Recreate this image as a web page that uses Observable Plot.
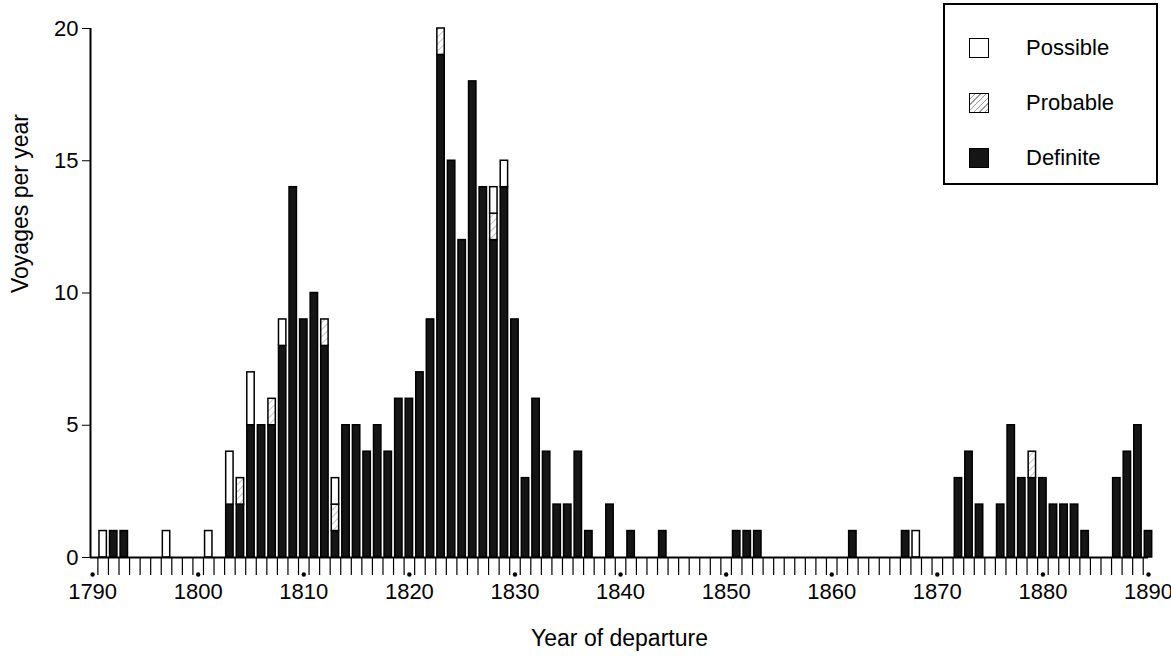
<!DOCTYPE html>
<html><head><meta charset="utf-8">
<script src="https://cdn.jsdelivr.net/npm/d3@7"></script>
<script src="https://cdn.jsdelivr.net/npm/@observablehq/plot@0.6"></script>
<style>
body{margin:0;background:#fff;font-family:Arial,"Liberation Sans",sans-serif}
#wrap{position:relative;width:1171px;height:657px}
#legend{position:absolute;left:943px;top:3px;width:211px;height:178px;border:2px solid #000;background:#fff;font-size:22px}
.it{position:absolute;left:24px;display:flex;align-items:center}
.sw{width:20px;height:20px;border:1.5px solid #000;margin-right:37px;box-sizing:border-box}
</style></head><body>
<div id="wrap"><div id="chart"></div>
<div id="legend">
<div class="it" style="top:30px"><div class="sw" style="background:#fff"></div>Possible</div>
<div class="it" style="top:85px"><div class="sw" style="background:repeating-linear-gradient(135deg,#fff 0 3px,#999 3px 4px)"></div>Probable</div>
<div class="it" style="top:140px"><div class="sw" style="background:#151515"></div>Definite</div>
</div></div>
<script>
const years    = [1791,1792,1793,1797,1801,1803,1804,1805,1806,1807,1808,1809,1810,1811,1812,1813,1814,1815,1816,1817,1818,1819,1820,1821,1822,1823,1824,1825,1826,1827,1828,1829,1830,1831,1832,1833,1834,1835,1836,1837,1839,1841,1844,1851,1852,1853,1862,1867,1868,1872,1873,1874,1876,1877,1878,1879,1880,1881,1882,1883,1884,1887,1888,1889,1890];
const definite = [0,1,1,0,0,2,2,5,5,5,8,14,9,10,8,1,5,5,4,5,4,6,6,7,9,19,15,12,18,14,12,14,9,3,6,4,2,2,4,1,2,1,1,1,1,1,1,1,0,3,4,2,2,5,3,3,3,2,2,2,1,3,4,5,1];
const probable = [0,0,0,0,0,0,1,0,0,1,0,0,0,0,1,1,0,0,0,0,0,0,0,0,0,1,0,0,0,0,1,0,0,0,0,0,0,0,0,0,0,0,0,0,0,0,0,0,0,0,0,0,0,0,0,1,0,0,0,0,0,0,0,0,0];
const possible = [1,0,0,1,1,2,0,2,0,0,1,0,0,0,0,1,0,0,0,0,0,0,0,0,0,0,0,0,0,0,1,1,0,0,0,0,0,0,0,0,0,0,0,0,0,0,0,0,1,0,0,0,0,0,0,0,0,0,0,0,0,0,0,0,0];
const decades = d3.range(1790, 1891, 10);
const yTicks = [0,5,10,15,20];

const rows = [];
years.forEach((yr,i) => {
  let b = 0;
  [["Definite",definite[i],"#151515"],["Probable",probable[i],"url(#hatch)"],["Possible",possible[i],"#fff"]].forEach(([k,v,f]) => {
    if (v > 0) { rows.push({yr, y1:b, y2:b+v, f}); b += v; }
  });
});

const chart = Plot.plot({
  width: 1171, height: 657,
  marginLeft: 90, marginRight: 23, marginTop: 28, marginBottom: 100,
  style: {fontFamily: "Arial, 'Liberation Sans', sans-serif", fontSize: "21px", color: "#000", overflow: "visible"},
  x: {domain: [1789.8, 1890], label: null},
  y: {domain: [0, 20], label: null},
  marks: [
    Plot.axisX(d3.range(1790.5, 1890, 1), {tickSize: 18, tickFormat: () => "", strokeWidth: 1.2}),
    Plot.axisX(decades, {tickSize: 0, tickPadding: 26, tickFormat: d => String(d), fontSize: 22}),
    Plot.dot(decades, {x: d => d, y: 0, r: 2.2, fill: "#000", dy: 17}),
    Plot.axisY(yTicks, {tickSize: 8, tickPadding: 4, fontSize: 22}),
    Plot.rectY(rows, {x1: d => d.yr - 0.35, x2: d => d.yr + 0.35, y1: "y1", y2: "y2", fill: "f", stroke: "#000", strokeWidth: 1.5}),
    Plot.ruleY([0], {strokeWidth: 2}),
    Plot.ruleX([1789.8], {y1: 0, y2: 20, strokeWidth: 2}),
    Plot.text(["Year of departure"], {frameAnchor: "bottom", dy: 88, fontSize: 23}),
    Plot.text(["Voyages per year"], {frameAnchor: "left", dx: -70, rotate: -90, fontSize: 23})
  ]
});
const svg = d3.select(chart);
svg.insert("defs", ":first-child").html(
  '<pattern id="hatch" patternUnits="userSpaceOnUse" width="5" height="5" patternTransform="rotate(45)"><rect width="5" height="5" fill="#fff"/><line x1="0" y1="0" x2="0" y2="5" stroke="#888" stroke-width="1"/></pattern>');
document.getElementById("chart").append(chart);
</script></body></html>
